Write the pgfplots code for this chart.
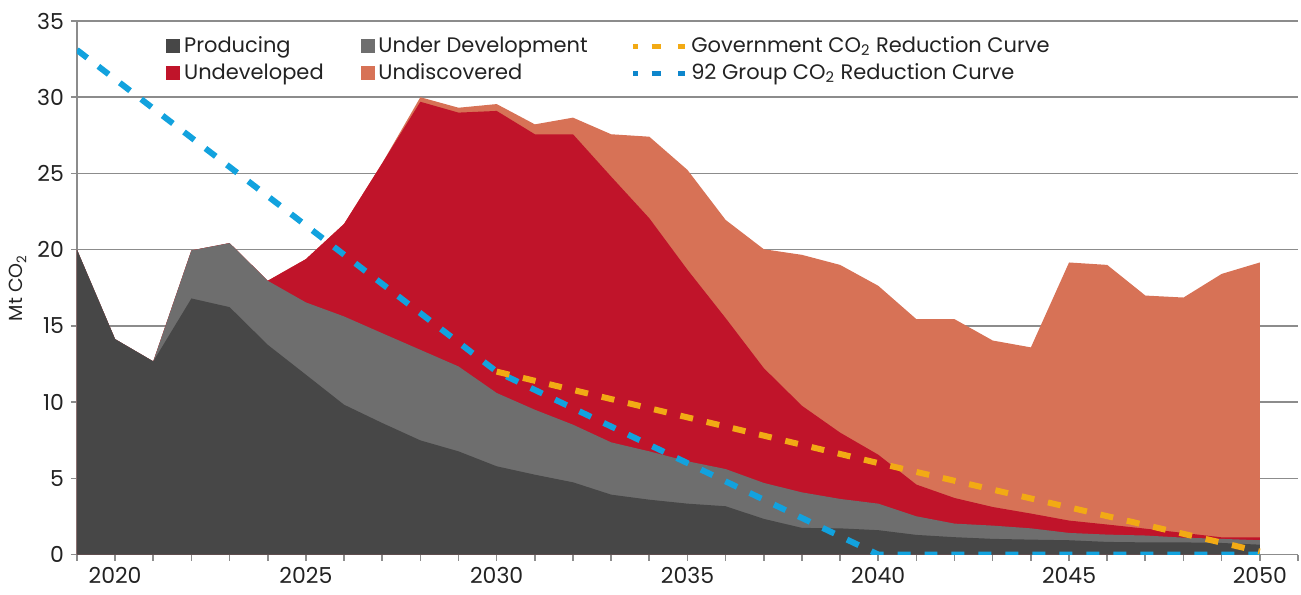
\documentclass[border=0pt]{standalone}
\usepackage{fontspec}
\setmainfont{Poppins}
\usepackage{pgfplots}
\pgfplotsset{compat=1.18}
\usepackage{pgfplotstable}

\definecolor{prod}{HTML}{474747}
\definecolor{udev}{HTML}{6E6E6E}
\definecolor{undev}{HTML}{C0142A}
\definecolor{undisc}{HTML}{D77256}
\definecolor{gov}{HTML}{F2AA14}
\definecolor{grp}{HTML}{12A2DE}
\definecolor{grpleg}{HTML}{0E86CC}
\definecolor{gridc}{HTML}{8C8C8C}
\definecolor{txt}{HTML}{222222}

% cumulative tops of each layer
\pgfplotstableread{
year prod udtop redtop tottop
2019 20.0 20.0 20.0 20.0
2020 14.13 14.13 14.13 14.13
2021 12.67 12.67 12.67 12.67
2022 16.8 19.95 19.95 19.95
2023 16.23 20.43 20.43 20.43
2024 13.76 17.96 17.96 17.96
2025 11.8 16.54 19.38 19.38
2026 9.83 15.62 21.69 21.69
2027 8.63 14.52 25.67 25.67
2028 7.49 13.43 29.7 30.0
2029 6.77 12.34 28.99 29.31
2030 5.79 10.6 29.1 29.55
2031 5.24 9.5 27.57 28.22
2032 4.74 8.52 27.57 28.66
2033 3.93 7.36 24.79 27.57
2034 3.6 6.77 22.06 27.41
2035 3.34 6.12 18.68 25.23
2036 3.17 5.61 15.51 21.95
2037 2.34 4.7 12.23 20.03
2038 1.75 4.08 9.76 19.66
2039 1.72 3.65 8.0 19.0
2040 1.6 3.34 6.55 17.63
2041 1.29 2.51 4.59 15.44
2042 1.14 2.03 3.71 15.44
2043 1.03 1.9 3.12 14.04
2044 0.98 1.72 2.69 13.59
2045 0.94 1.42 2.23 19.16
2046 0.83 1.31 1.97 19.0
2047 0.8 1.25 1.7 16.99
2048 0.8 1.11 1.42 16.86
2049 0.76 1.03 1.13 18.41
2050 0.65 0.94 1.13 19.16
}\data

\pgfplotstableread{
year val
2030 12.0
2035 9.0
2040 6.0
2045 3.1
2050 0.2
}\gov

\pgfplotstableread{
year val
2019 33.1
2030 12.0
2040 0.0
2050 0.0
}\grp

\begin{document}
\begin{tikzpicture}
\begin{axis}[
  scale only axis,
  width=611pt, height=267pt,
  xmin=2019, xmax=2051, ymin=0, ymax=35,
  xtick={2020,2025,...,2050},
  minor xtick={2019,...,2051},
  ytick={0,5,...,35},
  axis lines*=left,
  axis line style={-, draw=gridc, line width=0.8pt},
  tick align=outside,
  major tick length=3pt, minor tick length=3pt,
  every tick/.style={draw=gridc, line width=0.8pt},
  xticklabel style={/pgf/number format/1000 sep={}},
  /pgf/number format/assume math mode=true,
  tick label style={font=\fontsize{11}{13}\selectfont, text=txt},
  ymajorgrids,
  grid style={draw=gridc, line width=0.8pt},
  ylabel={Mt CO\textsubscript{2}},
  ylabel style={at={(axis description cs:-0.0483,0.5)}, anchor=center, font=\fontsize{9.5}{11}\selectfont, text=txt},
  legend columns=3,
  legend cell align=left,
  legend style={at={(0.068,0.9865)}, anchor=north west, draw=none, fill=none,
    font=\fontsize{10.5}{12.5}\selectfont, text=txt,
    /tikz/every even column/.append style={column sep=16.5pt},
    row sep=0pt},
]
\addplot[fill=undisc, draw=none, forget plot] table[x=year, y=tottop] {\data} \closedcycle;
\addplot[fill=undev, draw=none, forget plot] table[x=year, y=redtop] {\data} \closedcycle;
\addplot[fill=udev, draw=none, forget plot] table[x=year, y=udtop] {\data} \closedcycle;
\addplot[fill=prod, draw=none, forget plot] table[x=year, y=prod] {\data} \closedcycle;
\addplot[grp, line width=3pt, dash pattern=on 6.5pt off 7pt, forget plot] table[x=year, y=val] {\grp};
\addplot[gov, line width=3pt, dash pattern=on 6.5pt off 7pt, forget plot] table[x=year, y=val] {\gov};

\addlegendimage{legend image code/.code={\fill[prod] (0pt,-3.25pt) rectangle (6.5pt,3.25pt);}}
\addlegendentry{Producing}
\addlegendimage{legend image code/.code={\fill[udev] (0pt,-3.25pt) rectangle (6.5pt,3.25pt);}}
\addlegendentry{Under Development\hspace*{3pt}}
\addlegendimage{legend image code/.code={\draw[gov, line width=2.5pt] (0pt,0pt)--(2.5pt,0pt) (9.2pt,0pt)--(13.8pt,0pt) (22.5pt,0pt)--(25.8pt,0pt);}}
\addlegendentry{Government CO\textsubscript{2} Reduction Curve}
\addlegendimage{legend image code/.code={\fill[undev] (0pt,-3.25pt) rectangle (6.5pt,3.25pt);}}
\addlegendentry{Undeveloped}
\addlegendimage{legend image code/.code={\fill[undisc] (0pt,-3.25pt) rectangle (6.5pt,3.25pt);}}
\addlegendentry{Undiscovered}
\addlegendimage{legend image code/.code={\draw[grpleg, line width=2.5pt] (0pt,0pt)--(2.5pt,0pt) (9.2pt,0pt)--(13.8pt,0pt) (22.5pt,0pt)--(25.8pt,0pt);}}
\addlegendentry{92 Group CO\textsubscript{2} Reduction Curve}
\end{axis}
\pgfresetboundingbox
\path (-38.5pt,-20pt) rectangle (612.5pt,277.5pt);
\end{tikzpicture}
\end{document}
